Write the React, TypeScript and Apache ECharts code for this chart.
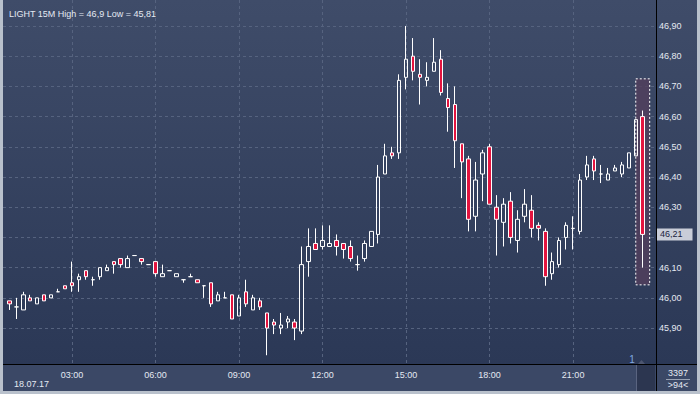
import React, { useEffect, useRef } from "react";
import * as echarts from "echarts";

const chartTitle = "LIGHT 15M High = 46,9 Low = 45,81";
const dateLabel = "18.07.17";
const volumeLabel = "3397";
const countLabel = ">94<";
const markerLabel = "1";

const times = [
  "00:45", "01:00", "01:15", "01:30", "01:45", "02:00", "02:15", "02:30", "02:45",
  "03:00", "03:15", "03:30", "03:45", "04:00", "04:15", "04:30", "04:45",
  "05:00", "05:15", "05:30", "05:45", "06:00", "06:15", "06:30", "06:45",
  "07:00", "07:15", "07:30", "07:45", "08:00", "08:15", "08:30", "08:45",
  "09:00", "09:15", "09:30", "09:45", "10:00", "10:15", "10:30", "10:45",
  "11:00", "11:15", "11:30", "11:45", "12:00", "12:15", "12:30", "12:45",
  "13:00", "13:15", "13:30", "13:45", "14:00", "14:15", "14:30", "14:45",
  "15:00", "15:15", "15:30", "15:45", "16:00", "16:15", "16:30", "16:45",
  "17:00", "17:15", "17:30", "17:45", "18:00", "18:15", "18:30", "18:45",
  "19:00", "19:15", "19:30", "19:45", "20:00", "20:15", "20:30", "20:45",
  "21:00", "21:15", "21:30", "21:45", "22:00", "22:15", "22:30", "22:45",
  "23:00", "23:15", "23:30",
];

const opens = [
  45.99, 45.97, 45.96, 46.0, 45.98, 46.01, 46.0, 46.02, 46.04,
  46.05, 46.06, 46.09, 46.06, 46.07, 46.09, 46.12, 46.13,
  46.1, 46.14, 46.13, 46.11, 46.12, 46.07, 46.09, 46.07,
  46.06, 46.07, 46.06, 46.04, 46.05, 45.99, 46.0, 46.01,
  45.94, 46.02, 45.96, 45.99, 45.95, 45.92, 45.9, 45.92,
  45.92, 45.89, 46.12, 46.18, 46.17, 46.17, 46.19, 46.18,
  46.17, 46.11, 46.13, 46.17, 46.21, 46.41, 46.48, 46.48,
  46.73, 46.8, 46.74, 46.72, 46.75, 46.79, 46.66, 46.64,
  46.51, 46.46, 46.27, 46.41, 46.5, 46.3, 46.25, 46.32,
  46.19, 46.27, 46.29, 46.24, 46.22, 46.08, 46.11, 46.2,
  46.23, 46.22, 46.4, 46.46, 46.41, 46.39, 46.42, 46.41,
  46.43, 46.47, 46.6,
];

const closes = [
  45.98, 45.97, 46.01, 45.99, 46.0, 45.99, 46.01, 46.02, 46.03,
  46.04, 46.07, 46.07, 46.06, 46.1, 46.1, 46.11, 46.11,
  46.13, 46.14, 46.12, 46.11, 46.08, 46.08, 46.09, 46.08,
  46.06, 46.07, 46.05, 46.04, 45.98, 46.01, 46.0, 45.93,
  46.0, 45.98, 46.0, 45.97, 45.9, 45.91, 45.91, 45.93,
  45.9, 46.11, 46.17, 46.16, 46.19, 46.18, 46.17, 46.16,
  46.13, 46.11, 46.18, 46.22, 46.4, 46.47, 46.47, 46.72,
  46.79, 46.75, 46.73, 46.73, 46.78, 46.68, 46.63, 46.52,
  46.45, 46.26, 46.39, 46.48, 46.31, 46.26, 46.31, 46.2,
  46.26, 46.31, 46.23, 46.23, 46.07, 46.12, 46.19, 46.24,
  46.23, 46.39, 46.44, 46.42, 46.41, 46.41, 46.43, 46.44,
  46.48, 46.59, 46.21,
];

const lows = [
  45.96, 45.93, 45.96, 45.99, 45.98, 45.99, 46.0, 46.02, 46.03,
  46.02, 46.02, 46.06, 46.04, 46.06, 46.09, 46.08, 46.1,
  46.1, 46.14, 46.11, 46.11, 46.07, 46.07, 46.09, 46.07,
  46.05, 46.07, 46.05, 46.0, 45.97, 45.99, 46.0, 45.93,
  45.94, 45.97, 45.96, 45.96, 45.81, 45.88, 45.88, 45.9,
  45.86, 45.88, 46.07, 46.16, 46.16, 46.17, 46.14, 46.13,
  46.12, 46.09, 46.12, 46.17, 46.18, 46.41, 46.46, 46.46,
  46.69, 46.72, 46.64, 46.7, 46.75, 46.67, 46.55, 46.43,
  46.33, 46.22, 46.22, 46.32, 46.31, 46.14, 46.17, 46.18,
  46.15, 46.25, 46.2, 46.19, 46.04, 46.06, 46.1, 46.16,
  46.16, 46.21, 46.39, 46.39, 46.38, 46.39, 46.42, 46.4,
  46.43, 46.47, 46.1,
];

const highs = [
  45.99, 46.0, 46.02, 46.01, 46.0, 46.01, 46.01, 46.03, 46.04,
  46.12, 46.08, 46.09, 46.07, 46.1, 46.11, 46.12, 46.13,
  46.14, 46.14, 46.13, 46.11, 46.12, 46.11, 46.09, 46.08,
  46.06, 46.08, 46.06, 46.04, 46.05, 46.02, 46.02, 46.01,
  46.01, 46.06, 46.01, 46.0, 45.95, 45.93, 45.95, 45.94,
  45.93, 46.17, 46.23, 46.23, 46.24, 46.24, 46.21, 46.18,
  46.19, 46.14, 46.19, 46.22, 46.44, 46.51, 46.5, 46.74,
  46.9, 46.86, 46.79, 46.78, 46.86, 46.82, 46.71, 46.7,
  46.51, 46.47, 46.45, 46.49, 46.51, 46.34, 46.33, 46.35,
  46.29, 46.36, 46.34, 46.25, 46.23, 46.15, 46.2, 46.25,
  46.27, 46.41, 46.47, 46.47, 46.44, 46.43, 46.44, 46.45,
  46.48, 46.59, 46.62,
];

const xTickTimes = ["03:00", "06:00", "09:00", "12:00", "15:00", "18:00", "21:00"];
const yTicks = [45.9, 46.0, 46.1, 46.2, 46.3, 46.4, 46.5, 46.6, 46.7, 46.8, 46.9];
const lastPrice = 46.21;
const selectionTop = 46.725;
const selectionBottom = 46.043;

const toMin = (t: string) => {
  const [h, m] = t.split(":").map(Number);
  return h * 60 + m;
};
const fmtTime = (v: number) => {
  const h = Math.floor(v / 60);
  const m = Math.round(v % 60);
  return String(h).padStart(2, "0") + ":" + String(m).padStart(2, "0");
};
const fmtPrice = (v: number) => v.toFixed(2).replace(".", ",");

const FONT = "'Liberation Sans', Arial, sans-serif";

export default function App() {
  const ref = useRef<HTMLDivElement>(null);
  useEffect(() => {
    document.body.style.margin = "0";
    if (!ref.current) return;
    const chart = echarts.init(ref.current, null, { renderer: "svg" });
    const data = times.map((t, i) => [toMin(t), opens[i], closes[i], lows[i], highs[i]]);
    const lastMin = toMin(times[times.length - 1]);
    const xTicks = xTickTimes.map(toMin);
    // the last-price tag covers the axis label nearest to it
    const yLabelValues = yTicks.filter((v) => Math.abs(v - lastPrice) >= 0.05);
    const txt = "#e4e9f2";
    const grid = "#56637f";

    chart.setOption({
      animation: false,
      backgroundColor: "#b9c1cc",
      title: {
        text: chartTitle,
        left: 4,
        top: 4,
        textStyle: { color: txt, fontSize: 9, fontWeight: "normal", fontFamily: FONT },
      },
      grid: { left: 3, right: 44, top: 0, bottom: 30, containLabel: false },
      xAxis: {
        type: "value",
        min: 31.3,
        max: 1438.6,
        axisLine: { show: false },
        axisTick: { show: false, customValues: xTicks },
        axisLabel: {
          customValues: xTicks,
          formatter: (v: number) => fmtTime(v),
          color: txt,
          fontSize: 9,
          fontFamily: FONT,
          margin: 6,
        },
        splitLine: { show: true, lineStyle: { color: grid, type: [3, 3], width: 1 } },
      },
      yAxis: {
        type: "value",
        position: "right",
        min: 45.781,
        max: 46.986,
        axisLine: { show: true, lineStyle: { color: "#000000", width: 1 } },
        axisTick: { show: false, customValues: yTicks },
        axisLabel: {
          customValues: yLabelValues,
          formatter: (v: number) => fmtPrice(v),
          color: txt,
          fontSize: 9,
          fontFamily: FONT,
          margin: 3,
        },
        splitLine: { show: true, lineStyle: { color: grid, type: [3, 3], width: 1 } },
      },
      graphic: [
        {
          type: "rect",
          z: -10,
          silent: true,
          shape: { x: 3, y: 0, width: 694, height: 364 },
          style: {
            fill: new echarts.graphic.LinearGradient(0, 0, 0, 1, [
              { offset: 0, color: "#3f4c69" },
              { offset: 1, color: "#2b3856" },
            ]),
          },
        },
        {
          type: "rect",
          z: -10,
          silent: true,
          shape: { x: 3, y: 365, width: 694, height: 26 },
          style: { fill: "#3b4866" },
        },
        {
          type: "rect",
          z: -9,
          silent: true,
          shape: { x: 636, y: 365, width: 19, height: 26 },
          style: { fill: "#2c3650" },
        },
        {
          type: "line",
          z: -8,
          silent: true,
          shape: { x1: 636.5, y1: 365, x2: 636.5, y2: 391 },
          style: { stroke: "#5a6480", lineWidth: 1 },
        },
        {
          type: "line",
          z: 5,
          silent: true,
          shape: { x1: 3, y1: 364.5, x2: 697, y2: 364.5 },
          style: { stroke: "#000000", lineWidth: 1 },
        },
        {
          type: "line",
          z: 5,
          silent: true,
          shape: { x1: 656.5, y1: 0, x2: 656.5, y2: 391 },
          style: { stroke: "#000000", lineWidth: 1 },
        },
        {
          type: "polygon",
          z: 5,
          silent: true,
          shape: { points: [[638, 364], [641.5, 360], [645, 364]] },
          style: { fill: "#4d5670" },
        },
        {
          type: "text",
          z: 5,
          silent: true,
          x: 632,
          y: 359,
          style: { text: markerLabel, fill: "#7fa8e0", fontSize: 10, fontFamily: FONT, align: "center", verticalAlign: "middle" },
        },
        {
          type: "text",
          z: 5,
          silent: true,
          x: 14,
          y: 384,
          style: { text: dateLabel, fill: txt, fontSize: 9, fontFamily: FONT, align: "left", verticalAlign: "middle" },
        },
        {
          type: "text",
          z: 5,
          silent: true,
          x: 678,
          y: 373,
          style: { text: volumeLabel, fill: txt, fontSize: 9, fontFamily: FONT, align: "center", verticalAlign: "middle" },
        },
        {
          type: "line",
          z: 5,
          silent: true,
          shape: { x1: 666, y1: 379.5, x2: 690, y2: 379.5 },
          style: { stroke: "#9aa3b4", lineWidth: 1 },
        },
        {
          type: "text",
          z: 5,
          silent: true,
          x: 678,
          y: 385,
          style: { text: countLabel, fill: txt, fontSize: 9, fontFamily: FONT, align: "center", verticalAlign: "middle" },
        },
      ],
      series: [
        {
          type: "candlestick",
          data,
          barWidth: 4,
          itemStyle: {
            color: "rgba(0,0,0,0)",
            color0: "#e3143f",
            borderColor: "#ffffff",
            borderColor0: "#ffffff",
            borderWidth: 1,
          },
          markArea: {
            silent: true,
            itemStyle: {
              color: "rgba(82,62,92,0.8)",
              borderColor: "#ffffff",
              borderWidth: 1,
              borderType: [2, 2],
            },
            data: [[
              { xAxis: lastMin - 15, yAxis: selectionTop },
              { xAxis: lastMin + 15, yAxis: selectionBottom },
            ]],
          },
          markLine: {
            silent: true,
            symbol: ["none", "none"],
            lineStyle: { color: "rgba(0,0,0,0)", width: 1 },
            label: {
              show: true,
              position: "end",
              distance: 1,
              formatter: fmtPrice(lastPrice),
              backgroundColor: "#c9cdd8",
              color: "#1b2340",
              fontSize: 9,
              fontFamily: FONT,
              padding: [2, 10, 1, 3],
            },
            data: [{ yAxis: lastPrice }],
          },
        },
      ],
    });
    return () => chart.dispose();
  }, []);
  return <div ref={ref} style={{ width: 700, height: 394 }} />;
}
